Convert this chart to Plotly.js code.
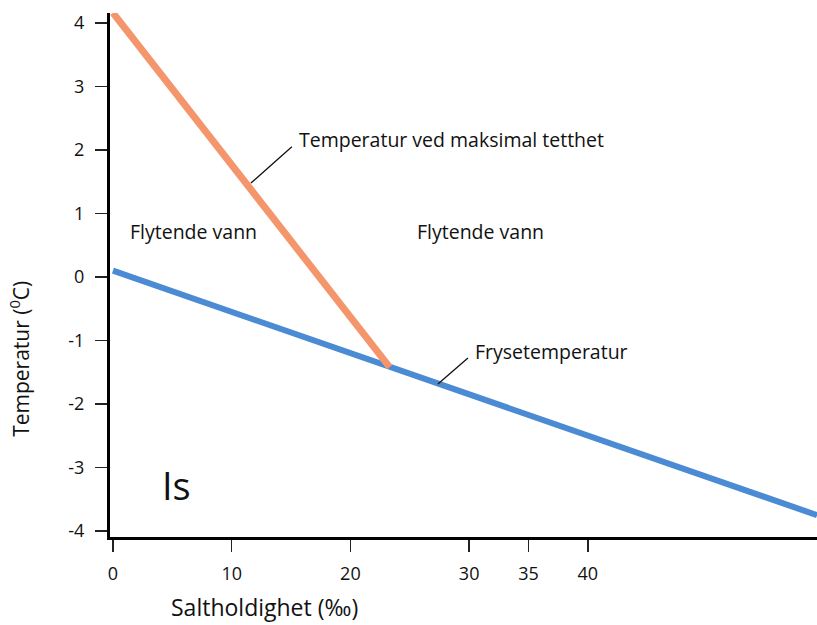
<!DOCTYPE html>
<html>
<head>
<meta charset="utf-8">
<script src="https://cdn.plot.ly/plotly-3.0.1.min.js"></script>
<style>html,body{margin:0;padding:0;background:#fff;}#chart{width:817px;height:625px;}</style>
</head>
<body>
<div id="chart"></div>
<script>
// Data
const maxDensitySalinity = [0, 23.3];
const maxDensityTemp = [4.16, -1.42];
const freezeSalinity = [0, 59.3];
const freezeTemp = [0.1, -3.75];

const xTickVals = [0, 10, 20, 30, 35, 40];
const xTickText = ["0", "10", "20", "30", "35", "40"];
const yTickVals = [4, 3, 2, 1, 0, -1, -2, -3, -4];
const yTickText = ["4", "3", "2", "1", "0", "-1", "-2", "-3", "-4"];

const FONT = "Open Sans, sans-serif";

const traces = [
  {
    x: freezeSalinity, y: freezeTemp, mode: "lines", name: "Frysetemperatur",
    line: {color: "#4b8bd3", width: 6}, hoverinfo: "skip"
  },
  {
    x: maxDensitySalinity, y: maxDensityTemp, mode: "lines", name: "Temperatur ved maksimal tetthet",
    line: {color: "#f4956b", width: 7}, hoverinfo: "skip"
  }
];

const txt = (text, x, y, size, extra) => Object.assign({
  text, x, y, xref: "x", yref: "y", showarrow: false, xanchor: "left", yanchor: "middle",
  font: {family: FONT, size: size, color: "#111"}
}, extra || {});

const layout = {
  width: 817, height: 625,
  margin: {l: 110, r: 0, t: 13, b: 88},
  paper_bgcolor: "#fff", plot_bgcolor: "#fff",
  showlegend: false,
  font: {family: FONT, color: "#111"},
  xaxis: {
    range: [-0.25, 59.3], showgrid: false, zeroline: false,
    showline: true, linecolor: "#000", linewidth: 3,
    tickmode: "array", tickvals: xTickVals, ticktext: xTickText,
    ticks: "outside", ticklen: 12, tickwidth: 1.3, tickcolor: "#222",
    ticklabelstandoff: 6,
    tickfont: {family: FONT, size: 18, color: "#111"}
  },
  yaxis: {
    range: [-4.094, 4.157], showgrid: false, zeroline: false,
    showline: true, linecolor: "#000", linewidth: 3,
    tickmode: "array", tickvals: yTickVals, ticktext: yTickText,
    ticks: "outside", ticklen: 12, tickwidth: 1.3, tickcolor: "#222",
    ticklabelstandoff: 7,
    tickfont: {family: FONT, size: 18, color: "#111"}
  },
  shapes: [
    {type: "line", xref: "x", yref: "y", x0: 11.62, y0: 1.48, x1: 15.07, y1: 2.05, line: {color: "#111", width: 1.3}},
    {type: "line", xref: "x", yref: "y", x0: 27.37, y0: -1.685, x1: 29.9, y1: -1.276, line: {color: "#111", width: 1.3}}
  ],
  annotations: [
    txt("Temperatur ved maksimal tetthet", 15.5, 2.17, 19.5),
    txt("Flytende vann", 1.3, 0.71, 19.5),
    txt("Flytende vann", 25.45, 0.71, 19.5),
    txt("Frysetemperatur", 30.3, -1.18, 19.5),
    txt("Is", 4.0, -3.28, 38),
    {text: "Temperatur (<sup>0</sup>C)", xref: "paper", yref: "paper", x: -0.1273, y: 0.34,
     textangle: -90, showarrow: false, xanchor: "center", yanchor: "middle",
     font: {family: FONT, size: 21, color: "#111"}},
    {text: "Saltholdighet (‰)", xref: "paper", yref: "paper", x: 0.219, y: -0.134,
     showarrow: false, xanchor: "center", yanchor: "middle",
     font: {family: FONT, size: 23, color: "#111"}}
  ]
};

Plotly.newPlot("chart", traces, layout, {staticPlot: true, displayModeBar: false});
</script>
</body>
</html>
